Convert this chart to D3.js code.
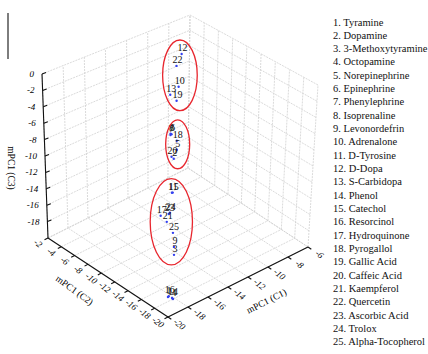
<!DOCTYPE html>
<html>
<head>
<meta charset="utf-8">
<script src="https://cdn.jsdelivr.net/npm/d3@7"></script>
<style>
  body { margin: 0; background: #fff; }
</style>
</head>
<body>
<div id="chart"></div>
<script>
// compound names, numbered 1..25
const compounds = ["Tyramine", "Dopamine", "3-Methoxytyramine", "Octopamine", "Norepinephrine",
  "Epinephrine", "Phenylephrine", "Isoprenaline", "Levonordefrin", "Adrenalone", "D-Tyrosine",
  "D-Dopa", "S-Carbidopa", "Phenol", "Catechol", "Resorcinol", "Hydroquinone", "Pyrogallol",
  "Gallic Acid", "Caffeic Acid", "Kaempferol", "Quercetin", "Ascorbic Acid", "Trolox",
  "Alpha-Tocopherol"];

// mPC1 scores (same order as compounds)
const scoreC1 = [-18.87, -13.99, -17.21, -18.61, -13.50, -12.74, -13.82, -13.27, -16.96, -11.07,
  -15.27, -9.63, -11.84, -18.65, -15.50, -18.90, -16.68, -13.18, -11.70, -14.05,
  -16.54, -10.38, -15.84, -16.07, -16.56];
const scoreC2 = [-18.29, -11.70, -16.65, -18.65, -11.41, -9.50, -10.95, -10.14, -16.26, -7.98,
  -13.38, -6.23, -7.94, -18.57, -13.84, -18.45, -13.86, -10.91, -8.64, -11.47,
  -14.55, -6.63, -13.81, -14.29, -15.50];
const scoreC3 = [-19.2, -8.82, -16.04, -19.4, -8.14, -7.60, -6.40, -6.94, -15.44, -3.40,
  -11.38, -0.92, -4.00, -19.3, -11.00, -19.0, -13.10, -7.46, -4.46, -8.66,
  -13.56, -1.82, -13.40, -12.88, -14.38];

// circled groups (compound numbers)
const groupTop = [12, 22, 10, 13, 19];
const groupMid = [2, 5, 6, 7, 8, 18, 20];
const groupLow = [3, 9, 11, 15, 17, 21, 23, 24, 25];

// axis ticks
const ticksC1 = [-20, -18, -16, -14, -12, -10, -8, -6];
const ticksC2 = [-2, -4, -6, -8, -10, -12, -14, -16, -18, -20];
const ticksC3 = [0, -2, -4, -6, -8, -10, -12, -14, -16, -18];
const gridC3 = [0, -2, -4, -6, -8, -10, -12, -14, -16, -18, -20];

const width = 428, height = 354;

const svg = d3.select("#chart")
    .append("svg")
    .attr("width", width)
    .attr("height", height)
    .style("font-family", "'Liberation Serif', 'Times New Roman', serif");

// unit cube scales
const sx = d3.scaleLinear().domain([-20, -6]).range([0, 1]);
const sy = d3.scaleLinear().domain([-20, -2]).range([0, 1]);
const sz = d3.scaleLinear().domain([-20, 0]).range([0, 1]);

// screen corners of the box (front, right, left, back)
const floorCorners = [[168, 317], [308, 247], [48, 238], [188, 168]];
const topCorners = [[170, 144], [318, 85], [42, 74], [190, 15]];

function bilerp(c, a, b) {
    const k = [(1 - a) * (1 - b), a * (1 - b), (1 - a) * b, a * b];
    return [0, 1].map(i => k[0] * c[0][i] + k[1] * c[1][i] + k[2] * c[2][i] + k[3] * c[3][i]);
}

function project(c1, c2, c3) {
    const a = sx(c1), b = sy(c2), t = sz(c3);
    const f = bilerp(floorCorners, a, b), u = bilerp(topCorners, a, b);
    return [f[0] + t * (u[0] - f[0]), f[1] + t * (u[1] - f[1])];
}

const line = d3.line();

// grid segments
const segs = [];
ticksC1.forEach(v => {
    segs.push([[v, -2, -20], [v, -2, 0]]);      // left wall verticals
    segs.push([[v, -20, -20], [v, -2, -20]]);   // floor
});
ticksC2.forEach(v => {
    segs.push([[-6, v, -20], [-6, v, 0]]);      // right wall verticals
    segs.push([[-20, v, -20], [-6, v, -20]]);   // floor
});
gridC3.forEach(v => {
    segs.push([[-20, -2, v], [-6, -2, v]]);     // left wall horizontals
    segs.push([[-6, -20, v], [-6, -2, v]]);     // right wall horizontals
});

svg.append("g")
    .selectAll("path")
    .data(segs)
    .join("path")
    .attr("d", d => line([project(...d[0]), project(...d[1])]))
    .attr("fill", "none")
    .attr("stroke", "#d0d0d0")
    .attr("stroke-width", 0.8)
    .attr("stroke-dasharray", "2,1");

// axes
const axes = svg.append("g").attr("stroke", "#111").attr("stroke-width", 1.1).attr("fill", "none");
axes.append("path").attr("d", line([project(-20, -2, -20), project(-20, -2, 0)]));
axes.append("path").attr("d", line([project(-20, -2, -20), project(-20, -20, -20)]));
axes.append("path").attr("d", line([project(-20, -20, -20), project(-6, -20, -20)]));

// C3 ticks + labels
ticksC3.forEach(v => {
    const p = project(-20, -2, v);
    axes.append("path").attr("d", line([p, [p[0] + 4, p[1] - 1.5]]));
    svg.append("text")
        .attr("x", p[0] - 8).attr("y", p[1] + 3)
        .attr("text-anchor", "end")
        .attr("font-size", 9).attr("font-style", "italic")
        .text(v);
});

// C2 ticks + labels
ticksC2.forEach(v => {
    const p = project(-20, v, -20);
    axes.append("path").attr("d", line([p, [p[0] - 3.5, p[1] + 1.8]]));
    svg.append("text")
        .attr("transform", `translate(${p[0] - 10.5},${p[1] + 6}) rotate(38)`)
        .attr("text-anchor", "middle")
        .attr("dominant-baseline", "middle")
        .attr("font-size", 9).attr("font-style", "italic")
        .text(v);
});

// C1 ticks + labels
ticksC1.forEach(v => {
    const p = project(v, -20, -20);
    axes.append("path").attr("d", line([p, [p[0] + 3.3, p[1] + 2.2]]));
    svg.append("text")
        .attr("transform", `translate(${p[0] + 11},${p[1] + 8}) rotate(40)`)
        .attr("text-anchor", "middle")
        .attr("dominant-baseline", "middle")
        .attr("font-size", 9).attr("font-style", "italic")
        .text(v);
});

// axis titles
svg.append("text")
    .attr("transform", "translate(10,168) rotate(90)")
    .attr("text-anchor", "middle").attr("dominant-baseline", "middle")
    .attr("font-size", 9.5)
    .text("mPC1 (C3)");
svg.append("text")
    .attr("transform", "translate(74,291) rotate(36)")
    .attr("text-anchor", "middle").attr("dominant-baseline", "middle")
    .attr("font-size", 9.5)
    .text("mPC1 (C2)");
svg.append("text")
    .attr("transform", "translate(267,302) rotate(-27)")
    .attr("text-anchor", "middle").attr("dominant-baseline", "middle")
    .attr("font-size", 9.5)
    .text("mPC1 (C1)");

// left border line
svg.append("line")
    .attr("x1", 8).attr("x2", 8).attr("y1", 13).attr("y2", 59)
    .attr("stroke", "#7d7d7d").attr("stroke-width", 2);

// points
const points = compounds.map((name, i) => {
    const p = project(scoreC1[i], scoreC2[i], scoreC3[i]);
    return { id: i + 1, name, x: p[0], y: p[1] };
});

svg.append("g")
    .selectAll("circle")
    .data(points)
    .join("circle")
    .attr("cx", d => d.x)
    .attr("cy", d => d.y)
    .attr("r", 1.2)
    .attr("fill", "#3340f0");

svg.append("g")
    .selectAll("text")
    .data(points)
    .join("text")
    .attr("x", d => d.x + 1)
    .attr("y", d => d.y - 3)
    .attr("text-anchor", "middle")
    .attr("font-size", 10)
    .attr("fill", "#111")
    .text(d => d.id);

// ellipses around groups
[groupTop, groupMid, groupLow].forEach(g => {
    const pts = points.filter(d => g.includes(d.id));
    const ex = d3.extent(pts, d => d.x), ey = d3.extent(pts, d => d.y);
    const ry = (ey[1] - ey[0]) / 2 + 12;
    svg.append("ellipse")
        .attr("cx", (ex[0] + ex[1]) / 2 + 4)
        .attr("cy", (ey[0] + ey[1]) / 2 - 2)
        .attr("rx", ry * 0.49)
        .attr("ry", ry)
        .attr("fill", "none")
        .attr("stroke", "#e8262e")
        .attr("stroke-width", 1.3);
});

// legend
svg.append("g")
    .selectAll("text")
    .data(compounds)
    .join("text")
    .attr("x", 333)
    .attr("y", (d, i) => 25.5 + i * 13.33)
    .attr("font-size", 10.5)
    .attr("fill", "#111")
    .text((d, i) => `${i + 1}. ${d}`);
</script>
</body>
</html>
